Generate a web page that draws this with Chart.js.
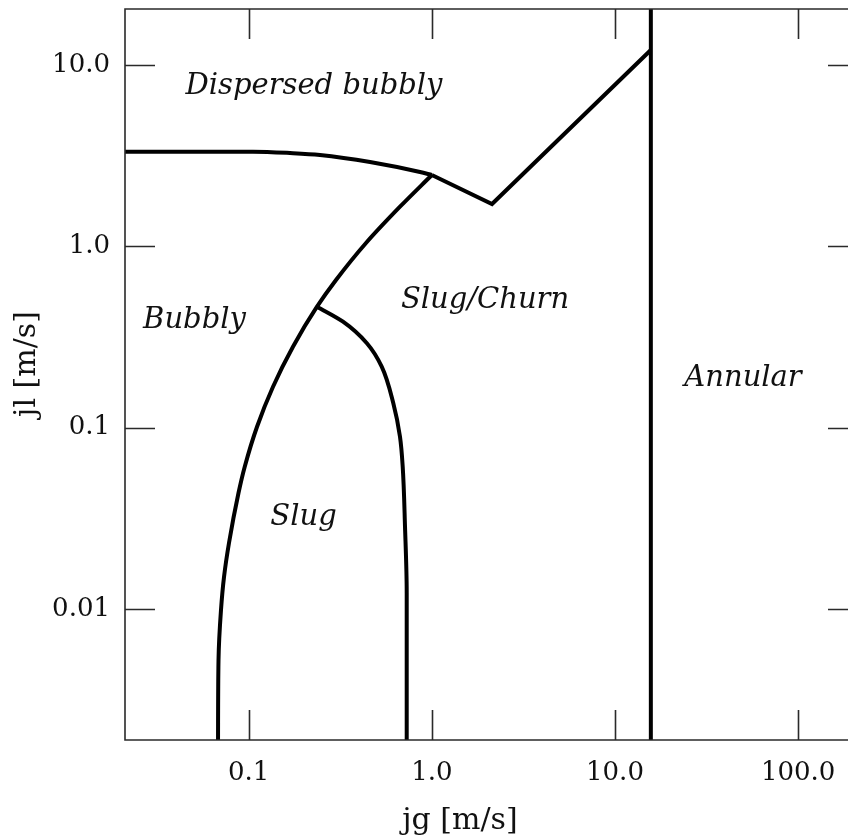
<!DOCTYPE html>
<html>
<head>
<meta charset="utf-8">
<script src="https://cdn.jsdelivr.net/npm/chart.js@4.4.1/dist/chart.umd.min.js"></script>
<style>
  html, body { margin: 0; padding: 0; background: #ffffff; overflow: hidden; }
  #wrap { width: 848px; height: 840px; position: relative; }
</style>
</head>
<body>
<div id="wrap"><canvas id="c" width="848" height="840"></canvas></div>
<script>
// ---- Axis ranges and ticks ----
const xRange = [0.0211, 187.3];
const yRange = [0.001891, 20.37];
const xTickValues = [0.1, 1, 10, 100];
const xTickLabels = ["0.1", "1.0", "10.0", "100.0"];
const yTickValues = [0.01, 0.1, 1, 10];
const yTickLabels = ["0.01", "0.1", "1.0", "10.0"];
const xTitle = "jg [m/s]";
const yTitle = "jl [m/s]";

// ---- Regime boundaries (jg, jl) ----
// Dispersed-bubbly boundary (curved part, up to the junction)
const dispersedJg = [0.0211, 0.0542, 0.1055, 0.168, 0.2449, 0.4595, 0.8617, 1.0];
const dispersedJl = [3.325, 3.325, 3.325, 3.27, 3.189, 2.917, 2.57, 2.474];
// Straight V segment from the junction to the annular line
const vJg = [1.0, 2.131, 15.7];
const vJl = [2.474, 1.712, 12.1];
// Bubbly / slug boundary
const bubblyJg = [1.0, 0.6699, 0.4369, 0.2996, 0.2359, 0.1744, 0.1357, 0.111, 0.0951, 0.08791, 0.07801, 0.07328, 0.07055, 0.06838, 0.06796];
const bubblyJl = [2.474, 1.654, 1.043, 0.6519, 0.4643, 0.2794, 0.1681, 0.1011, 0.06086, 0.04357, 0.02309, 0.01499, 0.009863, 0.005226, 0.0018];
// Slug / churn boundary
const slugJg = [0.2359, 0.3272, 0.4406, 0.5323, 0.6159, 0.6699, 0.6931, 0.7135, 0.7289, 0.7289];
const slugJl = [0.4643, 0.3838, 0.2928, 0.2168, 0.1361, 0.08909, 0.06086, 0.02841, 0.01224, 0.0018];
// Annular transition (vertical)
const annularJg = [15.7, 15.7];
const annularJl = [0.0018, 25];

// ---- Region labels ----
const regionNames = ["Dispersed bubbly", "Bubbly", "Slug/Churn", "Annular", "Slug"];
const regionJg = [0.2272, 0.05056, 1.951, 50.04, 0.1991];
const regionJl = [7.6, 0.3923, 0.5056, 0.1878, 0.0318];

const pts = (xs, ys) => xs.map((x, i) => ({ x: x, y: ys[i] }));

const lineStyle = {
  borderColor: '#000', backgroundColor: '#000',
  borderWidth: 4, pointRadius: 0, pointHoverRadius: 0, fill: false, clip: 0,
  borderCapStyle: 'butt', borderJoinStyle: 'miter'
};

const frameColor = '#2a2a2a';

const framePlugin = {
  id: 'frame',
  afterDraw(chart) {
    const { ctx, chartArea: a, scales } = chart;
    const xs = scales.x, ys = scales.y;
    ctx.save();
    ctx.strokeStyle = frameColor;
    ctx.lineWidth = 1.6;
    ctx.beginPath();
    ctx.moveTo(a.right + 20, a.top); ctx.lineTo(a.left, a.top);
    ctx.lineTo(a.left, a.bottom); ctx.lineTo(a.right + 20, a.bottom);
    ctx.stroke();
    const tl = 30;
    ctx.beginPath();
    xTickValues.forEach(v => {
      const px = Math.round(xs.getPixelForValue(v)) + 0.5;
      ctx.moveTo(px, a.bottom); ctx.lineTo(px, a.bottom - tl);
      ctx.moveTo(px, a.top); ctx.lineTo(px, a.top + tl);
    });
    yTickValues.forEach(v => {
      const py = Math.round(ys.getPixelForValue(v)) + 0.5;
      ctx.moveTo(a.left, py); ctx.lineTo(a.left + tl, py);
      ctx.moveTo(a.right + 10, py); ctx.lineTo(a.right + 10 - tl, py);
    });
    ctx.stroke();

    // region labels
    ctx.fillStyle = '#111';
    ctx.font = 'italic 29px "DejaVu Serif"';
    ctx.textAlign = 'center';
    ctx.textBaseline = 'middle';
    regionNames.forEach((n, i) => {
      ctx.fillText(n, xs.getPixelForValue(regionJg[i]), ys.getPixelForValue(regionJl[i]));
    });

    // axis titles
    ctx.font = '30px "DejaVu Serif"';
    ctx.textBaseline = 'alphabetic';
    ctx.fillText(xTitle, 460, 829);
    ctx.translate(35, 364);
    ctx.rotate(-Math.PI / 2);
    ctx.fillText(yTitle, 0, 0);
    ctx.restore();
  }
};

new Chart(document.getElementById('c'), {
  type: 'line',
  data: {
    datasets: [
      Object.assign({ data: pts(dispersedJg, dispersedJl), cubicInterpolationMode: 'monotone' }, lineStyle),
      Object.assign({ data: pts(vJg, vJl), tension: 0 }, lineStyle),
      Object.assign({ data: pts(bubblyJg, bubblyJl), indexAxis: 'y', cubicInterpolationMode: 'monotone' }, lineStyle),
      Object.assign({ data: pts(slugJg, slugJl), indexAxis: 'y', cubicInterpolationMode: 'monotone' }, lineStyle),
      Object.assign({ data: pts(annularJg, annularJl), tension: 0 }, lineStyle)
    ]
  },
  options: {
    responsive: false,
    animation: false,
    events: [],
    layout: { padding: { top: 9, right: 0, bottom: 0, left: 0 } },
    plugins: { legend: { display: false }, tooltip: { enabled: false }, title: { display: false } },
    scales: {
      x: {
        type: 'logarithmic', min: xRange[0], max: xRange[1],
        grid: { display: false, drawTicks: false },
        border: { display: false },
        afterBuildTicks: s => { s.ticks = xTickValues.map(v => ({ value: v })); },
        afterFit: s => { s.height = 100; s.paddingLeft = 0; s.paddingRight = 0; },
        ticks: {
          autoSkip: false, maxRotation: 0, padding: 18,
          color: '#111', font: { family: 'DejaVu Serif', size: 26 },
          callback: (v) => { const i = xTickValues.indexOf(v); return i >= 0 ? xTickLabels[i] : ''; }
        }
      },
      y: {
        type: 'logarithmic', min: yRange[0], max: yRange[1],
        grid: { display: false, drawTicks: false },
        border: { display: false },
        afterBuildTicks: s => { s.ticks = yTickValues.map(v => ({ value: v })); },
        afterFit: s => { s.width = 125; s.paddingTop = 0; s.paddingBottom = 0; },
        ticks: {
          autoSkip: false, padding: 15,
          color: '#111', font: { family: 'DejaVu Serif', size: 26 },
          callback: (v) => { const i = yTickValues.indexOf(v); return i >= 0 ? yTickLabels[i] : ''; }
        }
      }
    }
  },
  plugins: [framePlugin]
});
</script>
</body>
</html>
